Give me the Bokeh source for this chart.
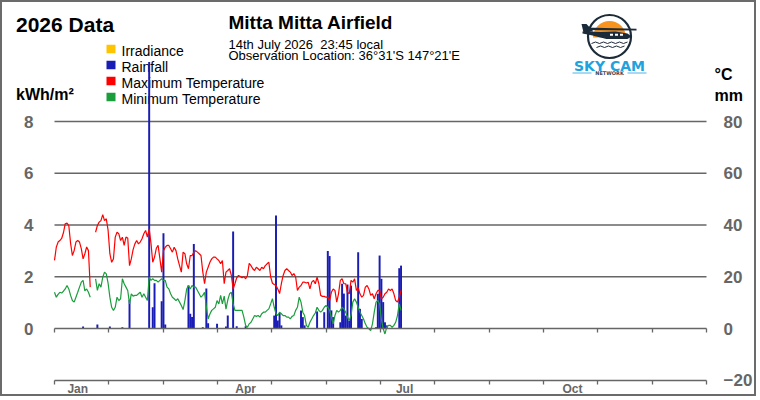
import numpy as np
from bokeh.plotting import figure
from bokeh.models import Range1d, FixedTicker, ColumnDataSource, LinearAxis
from bokeh.core.properties import value
from bokeh.embed import file_html
from bokeh.resources import INLINE

nan = float("nan")

# Daily maximum temperature (°C), 1 Jan onwards
max_temp = [
    26.3, 31.4, 33.4, 34.0, 34.8, 37.0, 40.5, 40.7, 39.8, 33.0,
    28.2, 30.1, 33.4, 34.0, 33.4, 30.9, 26.9, 28.9, 31.5, 30.1,
    16.0, nan, nan, 37.2, 39.8, 41.1, 41.7, 44.0, 41.7, 42.4,
    38.0, 28.9, 25.6, 26.9, 35.3, 37.2, 36.6, 34.0, 35.3, 32.1,
    35.3, 35.0, 24.3, 26.9, 30.5, 32.7, 34.0, 32.7, 33.4, 34.7,
    36.6, 37.9, 35.3, 38.5, 33.0, 25.6, 27.6, 31.0, 32.1, 27.0,
    21.8, 30.1, 31.4, 32.1, 32.1, 30.8, 29.5, 31.4, 30.1, 26.9,
    24.3, 21.8, 29.5, 28.9, 25.0, 23.1, 28.2, 28.2, 29.5, 30.1,
    29.5, 28.9, 28.2, 22.0, 17.3, 21.8, 23.7, 25.6, 26.9, 27.6,
    27.6, 26.9, 26.3, 25.0, 26.3, 17.3, 21.8, 22.4, 23.1, 20.5,
    15.3, 17.3, 19.6, 20.5, 20.1, 19.6, 20.1, 19.2, 20.5, 25.2,
    24.3, 23.1, 22.4, 23.7, 23.1, 22.4, 23.7, 23.1, 24.3, 25.0,
    25.6, 20.0, 17.5, 17.0, 16.6, 15.3, 13.5, 17.3, 20.5, 22.4,
    23.1, 22.4, 21.8, 20.5, 21.2, 19.9, 14.7, 16.0, 16.6, 17.9,
    17.9, 17.6, 17.9, 15.3, 17.9, 18.6, 17.3, 19.8, 17.3, 12.8,
    12.4, 12.4, 12.1, 12.1, 10.8, 14.0, 15.3, 14.7, 10.2, 13.4,
    18.6, 19.2, 17.3, 17.3, 14.0, 13.4, 18.6, 17.9, 19.2, 14.7,
    15.7, 13.4, 12.1, 12.8, 16.0, 16.6, 15.3, 12.8, 13.4, 11.5,
    13.4, 14.7, 14.7, 11.5, 12.1, 13.4, 14.0, 15.3, 14.7, 15.3,
    13.4, 10.8, 10.2, 12.1, 14.7,
]

# Daily minimum temperature (°C)
min_temp = [
    14.0, 12.1, 13.2, 14.0, 13.7, 14.4, 15.3, 16.6, 15.3, 12.8,
    10.8, 10.2, 12.1, 14.0, 16.0, 17.9, 18.6, 14.5, 15.3, 14.0,
    12.1, nan, nan, 19.2, 14.7, 17.3, 16.0, 19.8, 21.8, 21.1,
    17.5, 12.1, 8.2, 7.0, 8.2, 12.1, 10.8, 11.5, 19.2, 17.3,
    16.0, 14.7, 9.5, 13.4, 12.5, 12.8, 12.8, 13.4, 14.0, 12.1,
    13.4, 12.1, 10.8, 19.8, 18.6, 19.2, 18.6, 18.6, 17.9, 18.6,
    19.2, 18.6, 18.6, 16.0, 15.3, 13.4, 12.1, 11.5, 10.8, 11.5,
    10.2, 8.9, 7.3, 10.8, 15.3, 16.6, 15.3, 16.6, 16.0, 16.0,
    14.7, 13.4, 12.1, 12.8, 14.0, 8.5, 3.7, 5.6, 7.0, 7.6,
    8.2, 10.8, 9.5, 12.8, 9.5, 12.5, 7.5, 11.0, 13.4, 14.0,
    9.5, 7.0, 7.0, 7.0, 7.0, 7.0, 4.4, 1.2, 0.5, 1.8,
    2.4, 3.7, 5.0, 4.7, 5.0, 4.4, 5.7, 6.3, 6.3, 7.0,
    7.6, 9.5, 11.5, 8.2, 5.7, 5.0, 6.3, 5.7, 5.0, 5.0,
    4.4, 4.4, 3.7, 4.7, 5.0, 7.0, 8.2, 12.1, 10.2, 6.3,
    5.0, 1.2, 0.5, 2.4, 3.7, 5.0, 6.0, 8.2, 7.0, 6.3,
    7.0, 8.2, 8.9, 8.2, 7.0, 4.4, 1.8, 5.0, 7.0, 6.3,
    7.0, 8.2, 7.6, 6.3, 4.4, 3.1, 5.0, 10.2, 11.5, 10.2,
    8.2, 6.3, 5.0, 3.7, 1.8, 0.5, -0.1, -0.8, 1.8, 6.3,
    10.2, 10.8, 9.5, 3.5, -0.1, -2.1, 0.5, 1.2, 1.2, 0.5,
    1.2, 2.4, 5.0, 9.5, 7.0,
]

# Rainfall (mm) on the days it fell (day of year, 0 = 1 Jan)
rain_day = [16, 24, 31, 38, 42, 53, 55, 56, 60, 61, 62, 75, 76, 77, 78,
            83, 85, 86, 91, 96, 97, 100, 102, 107, 123, 124, 125, 126, 127,
            138, 139, 140, 147, 151, 153, 154, 155, 156, 160, 161, 162, 163,
            164, 165, 166, 170, 171, 172, 180, 181, 182, 183, 184, 185, 186,
            193, 194]
rain_mm = [0.8, 1.5, 0.8, 0.5, 11.0, 103.0, 8.2, 17.5, 10.5, 36.8, 1.5,
           16.6, 5.7, 4.4, 32.7, 0.5, 15.5, 2.0, 1.8, 0.8, 5.0, 37.5, 0.9,
           0.9, 5.0, 43.7, 3.1, 6.0, 1.2, 7.0, 4.4, 1.2, 6.6, 6.3, 30.0,
           28.0, 7.0, 4.4, 2.4, 17.3, 13.5, 5.0, 17.0, 3.0, 16.6, 29.5, 7.6,
           3.7, 0.5, 13.4, 28.2, 19.2, 10.2, 2.4, 1.2, 23.3, 24.3]

days = list(range(len(max_temp)))

month_names = ["Jan", "Apr", "Jul", "Oct"]
month_label_days = [13, 107, 196, 290]
year_days = 365
month_bounds = [i * year_days / 12 for i in range(13)]

left_ticks = [0, 2, 4, 6, 8]            # kWh/m²
right_ticks = [-20, 0, 20, 40, 60, 80]  # °C and mm

legend_names = ["Irradiance", "Rainfall", "Maximum Temperature", "Minimum Temperature"]
legend_colors = ["#ffc400", "#1a1db5", "#ff0000", "#1a9e3c"]

RAIN = "#1a1db5"
RED = "#ff0000"
GREEN = "#1a9e3c"
GREY = "#666666"
FONT = "Liberation Sans"

# page layout: a 756x396 canvas inside a 2px frame (page x 2..758, y 2..398);
# the year runs from x=54 to x=706, kWh/m² 0 sits at y=328 and 8 at y=121
PLOT_L, PLOT_R = 54, 706
px_per_day = (PLOT_R - PLOT_L) / year_days
day_lo = -(PLOT_L - 2) / px_per_day
day_hi = year_days + (758 - PLOT_R) / px_per_day
Y0, Y8 = 328, 121
px_per_kwh = (Y0 - Y8) / 8
kwh_lo = -(398 - Y0) / px_per_kwh
kwh_hi = (Y0 - 2) / px_per_kwh

p = figure(width=756, height=396, x_range=Range1d(day_lo, day_hi), y_range=Range1d(kwh_lo, kwh_hi),
           output_backend="svg", toolbar_location=None,
           x_axis_location=None, y_axis_location=None,
           min_border_left=0, min_border_right=0, min_border_top=0, min_border_bottom=0)
p.extra_y_ranges = {"temp": Range1d(kwh_lo * 10, kwh_hi * 10), "py": Range1d(398, 2)}
p.extra_x_ranges = {"px": Range1d(2, 758)}
p.outline_line_color = None
p.background_fill_color = "white"
p.border_fill_color = "white"
p.styles = {"border": "2px solid #6b6b6b"}
p.xgrid.visible = False
p.ygrid.visible = False

pg = dict(x_range_name="px", y_range_name="py")


def style_labels(ax, size):
    ax.major_label_text_font = FONT
    ax.major_label_text_font_size = size
    ax.major_label_text_font_style = "bold"
    ax.major_label_text_color = GREY


# bottom axis at the foot of the chart: month boundaries as ticks, quarter names
xa = LinearAxis(fixed_location=-2, bounds=(0, year_days),
                ticker=FixedTicker(ticks=month_label_days, minor_ticks=month_bounds))
xa.major_label_overrides = {d: n for d, n in zip(month_label_days, month_names)}
xa.major_tick_out = 0
xa.major_tick_in = 0
xa.major_tick_line_color = None
xa.minor_tick_out = 4
xa.minor_tick_in = 0
xa.minor_tick_line_color = GREY
xa.minor_tick_line_width = 1.3
xa.axis_line_color = GREY
xa.axis_line_width = 1.3
xa.major_label_standoff = -2
style_labels(xa, "12px")
p.add_layout(xa, "below")

# same month ticks along the zero line, without labels
za = LinearAxis(fixed_location=0, bounds=(0, year_days),
                ticker=FixedTicker(ticks=[], minor_ticks=month_bounds))
za.major_label_text_font_size = "0px"
za.minor_tick_out = 4
za.minor_tick_in = 0
za.minor_tick_line_color = GREY
za.minor_tick_line_width = 1.3
za.axis_line_color = GREY
za.axis_line_width = 1.3
p.add_layout(za, "below")

# left scale (kWh/m²) and right scale (°C, mm)
ya = LinearAxis(fixed_location=0, ticker=FixedTicker(ticks=left_ticks))
ra = LinearAxis(fixed_location=year_days, y_range_name="temp", ticker=FixedTicker(ticks=right_ticks))
for ax, standoff in ((ya, 21), (ra, 17)):
    ax.axis_line_color = None
    ax.major_tick_line_color = None
    ax.minor_tick_line_color = None
    ax.major_tick_out = 0
    ax.major_tick_in = 0
    ax.major_label_standoff = standoff
    style_labels(ax, "17px")
p.add_layout(ya, "left")
p.add_layout(ra, "right")

# horizontal rules at the kWh/m² ticks above zero
rules = left_ticks[1:]
p.segment(x0=[0] * len(rules), x1=[year_days] * len(rules), y0=rules, y1=rules,
          line_color=GREY, line_width=1.3)

# headings and units (y is the middle of each line of text)
head_x = [15.5, 228, 228, 228, 15.5, 714, 714]
head_y = [24.3, 21.8, 43.8, 55.0, 94.0, 74.3, 94.5]
head_text = ["2026 Data", "Mitta Mitta Airfield", "14th July 2026\u00a0 23:45 local",
             "Observation Location: 36°31'S 147°21'E", "kWh/m²", "°C", "mm"]
head_size = ["21px", "19px", "13px", "13px", "16px", "16px", "16px"]
head_style = ["bold", "bold", "normal", "normal", "bold", "bold", "bold"]
p.text(x=head_x, y=head_y, text=head_text, text_font=value(FONT), text_font_size=head_size,
       text_font_style=head_style, text_color="black", text_baseline="middle", **pg)

# legend (drawn before the data so the bars sit on top)
p.rect(x=[110.5] * 4, y=[48.5, 64.5, 80.5, 96.5], width=9, height=8.5,
       fill_color=legend_colors, line_color=None, **pg)
p.text(x=[121] * 4, y=[50.8, 66.8, 82.8, 98.8], text=legend_names,
       text_font=value(FONT), text_font_size=value("14px"), text_color="black",
       text_baseline="middle", **pg)

# data
rain_src = ColumnDataSource(dict(day=rain_day, mm=rain_mm))
p.vbar(x="day", top="mm", bottom=0, width=1.1, source=rain_src,
       fill_color=RAIN, line_color=None, y_range_name="temp")
temp_src = ColumnDataSource(dict(day=days, tmax=max_temp, tmin=min_temp))
p.line(x="day", y="tmax", source=temp_src, line_color=RED, line_width=1.2, y_range_name="temp")
p.line(x="day", y="tmin", source=temp_src, line_color=GREEN, line_width=1.2, y_range_name="temp")

# Sky Cam Network badge
p.wedge(x=[609], y=[37], radius=16.5, start_angle=0, end_angle=np.pi,
        fill_color="#f7931e", line_color=None, **pg)
p.circle(x=[609], y=[36], radius=21.5, fill_color=None, line_color="#1c2b39", line_width=2.2, **pg)
plane_xs = [
    [581, 586, 593, 583],
    [583, 636, 636, 583],
    [582, 600, 615, 627, 631, 627, 606, 592, 582],
]
plane_ys = [
    [23.5, 23.5, 31, 32],
    [27, 28.3, 30, 29.5],
    [31, 31.5, 31, 33, 36, 38.5, 38.5, 35, 33],
]
p.patches(xs=plane_xs, ys=plane_ys, fill_color="#1c2b39", line_color=None, **pg)
p.rect(x=[611, 616, 621], y=[34.3, 34.3, 34.3], width=3, height=2,
       fill_color="white", line_color=None, **pg)
p.multi_line(xs=[[591, 595, 599, 603, 607, 611, 615, 619, 623, 627],
                 [596, 600, 604, 608, 612, 616, 620, 624]],
             ys=[[43, 41.5, 43, 41.5, 43, 41.5, 43, 41.5, 43, 41.5],
                 [47, 45.5, 47, 45.5, 47, 45.5, 47, 45.5]],
             line_color="#1c2b39", line_width=1, **pg)
p.text(x=[609], y=[65.5], text=["SKY CAM"], text_align="center", text_baseline="middle",
       text_font=value("DejaVu Sans"), text_font_size=value("14px"), text_font_style="bold",
       text_color="#22a2dc", **pg)
p.segment(x0=[572, 627], y0=[72.5, 72.5], x1=[591, 646], y1=[72.5, 72.5],
          line_color="#4fb3e6", line_width=1, **pg)
p.text(x=[609], y=[72.5], text=["NETWORK"], text_align="center", text_baseline="middle",
       text_font=value("DejaVu Sans"), text_font_size=value("5px"), text_font_style="bold",
       text_color="#3a4756", **pg)

open("out.html", "w").write(file_html(p, INLINE))
